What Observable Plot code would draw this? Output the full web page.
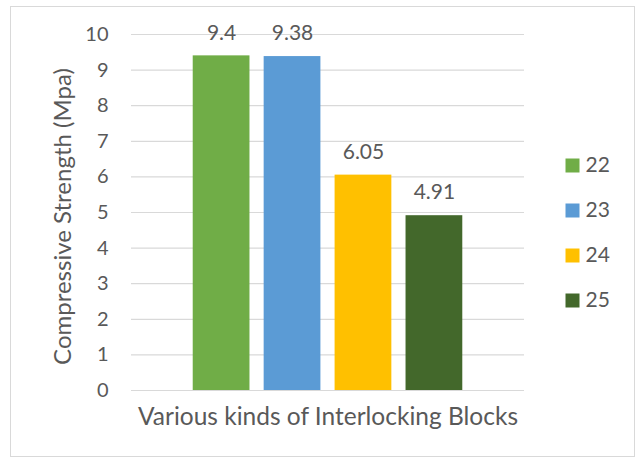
<!DOCTYPE html>
<html>
<head>
<meta charset="utf-8">
<script src="https://cdn.jsdelivr.net/npm/d3@7"></script>
<script src="https://cdn.jsdelivr.net/npm/@observablehq/plot@0.6"></script>
<style>
  html, body { margin: 0; padding: 0; background: #fff; }
  #wrap { position: relative; width: 639px; height: 459px; overflow: hidden; }
  #frame { position: absolute; left: 10px; top: 6px; width: 625px; height: 451px; border: 1px solid #d9d9d9; box-sizing: border-box; }
  #chart, #legend { position: absolute; }
  #chart { left: 0; top: 0; }
  #legend { left: 560px; top: 142px; }
</style>
</head>
<body>
<div id="wrap">
  <div id="frame"></div>
  <div id="chart"></div>
  <div id="legend"></div>
</div>
<script>
// Block types and their measured compressive strength (MPa)
const blocks = ["22", "23", "24", "25"];
const strength = [9.4, 9.38, 6.05, 4.91];
const colors = ["#70ad47", "#5b9bd5", "#ffc000", "#43682b"];
const yTicks = [0, 1, 2, 3, 4, 5, 6, 7, 8, 9, 10];
const yTitle = "Compressive Strength (Mpa)";
const xTitle = "Various kinds of Interlocking Blocks";

const rows = blocks.map((b, i) => ({block: b, value: strength[i]}));
const font = "Lato, 'Open Sans', sans-serif";
const ink = "#595959";

const chart = Plot.plot({
  width: 639,
  height: 459,
  marginLeft: 131,
  marginRight: 115,
  marginTop: 34,
  marginBottom: 69,
  style: {fontFamily: font, fontSize: "20px", color: ink, background: "transparent", overflow: "visible"},
  x: {domain: blocks, paddingInner: 0.2, paddingOuter: 0.87, round: false, axis: null},
  y: {domain: [0, 10], ticks: yTicks, axis: null},
  color: {domain: blocks, range: colors},
  marks: [
    Plot.gridY(yTicks, {stroke: "#d9d9d9", strokeOpacity: 1, strokeWidth: 1.2}),
    Plot.axisY(yTicks, {tickSize: 0, tickPadding: 23, fill: ink, fontSize: 20, label: null}),
    Plot.text([yTitle], {frameAnchor: "left", dx: -68, dy: 4, rotate: -90, textAnchor: "middle", lineAnchor: "middle", fill: ink, fontSize: 24}),
    Plot.text([xTitle], {frameAnchor: "bottom", dy: 27, textAnchor: "middle", lineAnchor: "middle", fill: ink, fontSize: 24.5}),
    Plot.barY(rows, {x: "block", y: "value", fill: "block"}),
    Plot.text(rows, {x: "block", y: "value", text: d => String(d.value), dy: -23, fill: ink, fontSize: 21})
  ]
});
document.getElementById("chart").append(chart);

// Legend: one swatch per block type, stacked vertically
const legend = Plot.plot({
  width: 70,
  height: 180,
  margin: 0,
  style: {fontFamily: font, fontSize: "20px", color: ink, background: "transparent", overflow: "visible"},
  y: {domain: blocks, padding: 0.5, axis: null},
  color: {domain: blocks, range: colors},
  marks: [
    Plot.dot(blocks, {y: d => d, fill: d => d, symbol: "square", r: 14 / Math.sqrt(Math.PI), frameAnchor: "left", dx: 12}),
    Plot.text(blocks, {y: d => d, text: d => d, frameAnchor: "left", dx: 25, textAnchor: "start", fill: ink, fontSize: 21})
  ]
});
document.getElementById("legend").append(legend);
</script>
</body>
</html>
